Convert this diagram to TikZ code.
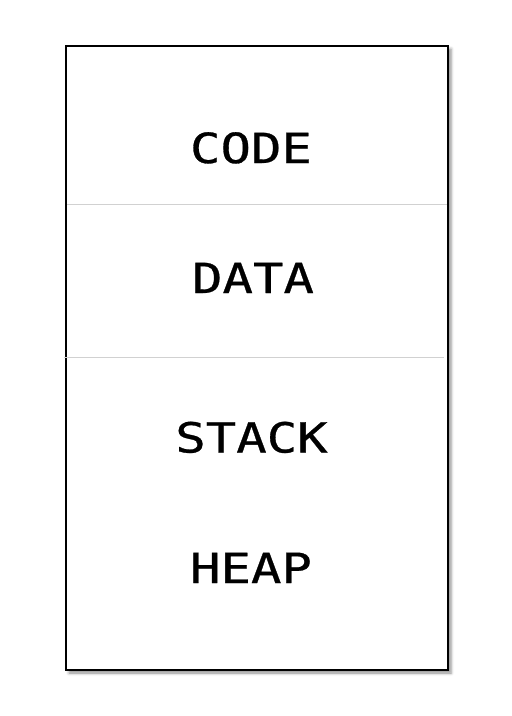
\documentclass[tikz,border=0pt]{standalone}
\usepackage{fontspec}
\newfontfamily\boxfont[FakeStretch=1.22,FakeBold=0.7]{DejaVu Sans Mono}
\usetikzlibrary{shadows.blur}
\tikzset{
  membox/.style={draw=black, line width=2pt, fill=white, inner sep=0pt, outer sep=0pt,
    minimum width=382pt, minimum height=624pt, anchor=north west,
    blur shadow={shadow xshift=3pt, shadow yshift=-3pt, shadow blur radius=3pt, shadow opacity=45}},
  divider/.style={draw=black!18, line width=0.9pt},
  seglabel/.style={font=\boxfont\fontsize{41.5}{41.5}\selectfont, inner sep=0pt, anchor=base, text=black}
}
\begin{document}
\begin{tikzpicture}[x=1pt,y=-1pt]
\useasboundingbox (0,0) rectangle (512,716);
\node[membox] (mem) at (66,46) {};
\coordinate (d1l) at (67,204);
\coordinate (d1r) at (447,204);
\coordinate (d2l) at (64,357.5);
\coordinate (d2r) at (444,357.5);
\draw[divider] (d1l) -- (d1r);
\draw[divider] (d2l) -- (d2r);
\node[seglabel] (code) at (251,163) {CODE};
\node[seglabel] (data) at (253,293) {DATA};
\node[seglabel] (stack) at (251.5,452.5) {STACK};
\node[seglabel] (heap) at (251,583) {HEAP};
\end{tikzpicture}
\end{document}
